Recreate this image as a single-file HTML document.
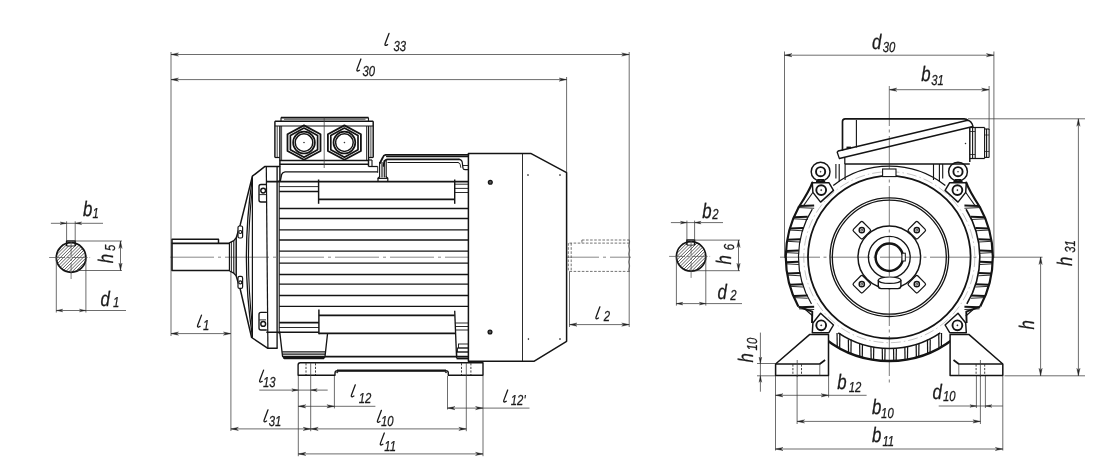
<!DOCTYPE html>
<html><head><meta charset="utf-8"><title>Motor dimensions</title>
<style>
html,body{margin:0;padding:0;background:#fff;}
body{width:1100px;height:467px;overflow:hidden;font-family:"Liberation Sans",sans-serif;}
svg{display:block;}
svg text{font-family:"Liberation Sans",sans-serif;text-rendering:geometricPrecision;}
svg{will-change:transform;}
body{-webkit-font-smoothing:antialiased;}
</style></head><body>
<svg width="1100" height="467" viewBox="0 0 1100 467">
<rect width="1100" height="467" fill="#fff"/>
<clipPath id="cp71"><circle cx="71.1" cy="257.5" r="14.8"/></clipPath>
<g clip-path="url(#cp71)">
<line x1="11.10" y1="277.50" x2="51.10" y2="237.50" stroke="#2a2a2a" stroke-width="0.75" />
<line x1="14.35" y1="277.50" x2="54.35" y2="237.50" stroke="#2a2a2a" stroke-width="0.75" />
<line x1="17.60" y1="277.50" x2="57.60" y2="237.50" stroke="#2a2a2a" stroke-width="0.75" />
<line x1="20.85" y1="277.50" x2="60.85" y2="237.50" stroke="#2a2a2a" stroke-width="0.75" />
<line x1="24.10" y1="277.50" x2="64.10" y2="237.50" stroke="#2a2a2a" stroke-width="0.75" />
<line x1="27.35" y1="277.50" x2="67.35" y2="237.50" stroke="#2a2a2a" stroke-width="0.75" />
<line x1="30.60" y1="277.50" x2="70.60" y2="237.50" stroke="#2a2a2a" stroke-width="0.75" />
<line x1="33.85" y1="277.50" x2="73.85" y2="237.50" stroke="#2a2a2a" stroke-width="0.75" />
<line x1="37.10" y1="277.50" x2="77.10" y2="237.50" stroke="#2a2a2a" stroke-width="0.75" />
<line x1="40.35" y1="277.50" x2="80.35" y2="237.50" stroke="#2a2a2a" stroke-width="0.75" />
<line x1="43.60" y1="277.50" x2="83.60" y2="237.50" stroke="#2a2a2a" stroke-width="0.75" />
<line x1="46.85" y1="277.50" x2="86.85" y2="237.50" stroke="#2a2a2a" stroke-width="0.75" />
<line x1="50.10" y1="277.50" x2="90.10" y2="237.50" stroke="#2a2a2a" stroke-width="0.75" />
<line x1="53.35" y1="277.50" x2="93.35" y2="237.50" stroke="#2a2a2a" stroke-width="0.75" />
<line x1="56.60" y1="277.50" x2="96.60" y2="237.50" stroke="#2a2a2a" stroke-width="0.75" />
<line x1="59.85" y1="277.50" x2="99.85" y2="237.50" stroke="#2a2a2a" stroke-width="0.75" />
<line x1="63.10" y1="277.50" x2="103.10" y2="237.50" stroke="#2a2a2a" stroke-width="0.75" />
<line x1="66.35" y1="277.50" x2="106.35" y2="237.50" stroke="#2a2a2a" stroke-width="0.75" />
<line x1="69.60" y1="277.50" x2="109.60" y2="237.50" stroke="#2a2a2a" stroke-width="0.75" />
<line x1="72.85" y1="277.50" x2="112.85" y2="237.50" stroke="#2a2a2a" stroke-width="0.75" />
<line x1="76.10" y1="277.50" x2="116.10" y2="237.50" stroke="#2a2a2a" stroke-width="0.75" />
<line x1="79.35" y1="277.50" x2="119.35" y2="237.50" stroke="#2a2a2a" stroke-width="0.75" />
<line x1="82.60" y1="277.50" x2="122.60" y2="237.50" stroke="#2a2a2a" stroke-width="0.75" />
<line x1="85.85" y1="277.50" x2="125.85" y2="237.50" stroke="#2a2a2a" stroke-width="0.75" />
<line x1="89.10" y1="277.50" x2="129.10" y2="237.50" stroke="#2a2a2a" stroke-width="0.75" />
</g>
<rect x="66.6" y="241.0" width="8.600000000000009" height="5" fill="#fff" stroke="none"/>
<circle cx="71.10" cy="257.50" r="14.80" fill="none" stroke="#141414" stroke-width="1.68" />
<path d="M66.60,246.00 L66.60,241.00 L75.20,241.00 L75.20,246.00" fill="none" stroke="#141414" stroke-width="1.46" stroke-linejoin="round" />
<line x1="66.60" y1="246.00" x2="75.20" y2="246.00" stroke="#141414" stroke-width="0.9" />
<line x1="49.10" y1="257.50" x2="90.10" y2="257.50" stroke="#555" stroke-width="0.75" stroke-dasharray="16 2 2.5 2"/>
<line x1="71.10" y1="240.50" x2="71.10" y2="279.50" stroke="#555" stroke-width="0.75" stroke-dasharray="16 2 2.5 2"/>
<line x1="50.90" y1="223.30" x2="66.60" y2="223.30" stroke="#3c3c3c" stroke-width="0.75" />
<line x1="75.20" y1="223.30" x2="103.00" y2="223.30" stroke="#3c3c3c" stroke-width="0.75" />
<line x1="66.60" y1="223.30" x2="75.20" y2="223.30" stroke="#3c3c3c" stroke-width="0.75" />
<path d="M66.60,223.30 L60.10,224.60 L62.05,223.30 L60.10,222.00 Z" fill="#222" stroke="#222" stroke-width="0.35" stroke-linejoin="miter"/>
<path d="M75.20,223.30 L81.70,222.00 L79.75,223.30 L81.70,224.60 Z" fill="#222" stroke="#222" stroke-width="0.35" stroke-linejoin="miter"/>
<line x1="66.60" y1="221.30" x2="66.60" y2="241.00" stroke="#3c3c3c" stroke-width="0.75" />
<line x1="75.20" y1="221.30" x2="75.20" y2="241.00" stroke="#3c3c3c" stroke-width="0.75" />
<line x1="75.20" y1="241.00" x2="122.00" y2="241.00" stroke="#3c3c3c" stroke-width="0.75" />
<line x1="76.10" y1="270.50" x2="122.00" y2="270.50" stroke="#3c3c3c" stroke-width="0.75" />
<line x1="120.50" y1="241.00" x2="120.50" y2="270.50" stroke="#3c3c3c" stroke-width="0.75" />
<path d="M120.50,241.00 L122.10,248.50 L120.50,246.25 L118.90,248.50 Z" fill="#222" stroke="#222" stroke-width="0.35" stroke-linejoin="miter"/>
<path d="M120.50,270.50 L118.90,263.00 L120.50,265.25 L122.10,263.00 Z" fill="#222" stroke="#222" stroke-width="0.35" stroke-linejoin="miter"/>
<line x1="56.30" y1="257.50" x2="56.30" y2="312.50" stroke="#3c3c3c" stroke-width="0.75" />
<line x1="85.90" y1="257.50" x2="85.90" y2="312.50" stroke="#3c3c3c" stroke-width="0.75" />
<line x1="56.30" y1="310.50" x2="126.00" y2="310.50" stroke="#3c3c3c" stroke-width="0.75" />
<path d="M56.30,310.50 L62.80,309.20 L60.85,310.50 L62.80,311.80 Z" fill="#222" stroke="#222" stroke-width="0.35" stroke-linejoin="miter"/>
<path d="M85.90,310.50 L79.40,311.80 L81.35,310.50 L79.40,309.20 Z" fill="#222" stroke="#222" stroke-width="0.35" stroke-linejoin="miter"/>
<clipPath id="cp691"><circle cx="691.1" cy="256.4" r="14.7"/></clipPath>
<g clip-path="url(#cp691)">
<line x1="631.10" y1="276.40" x2="671.10" y2="236.40" stroke="#2a2a2a" stroke-width="0.75" />
<line x1="634.35" y1="276.40" x2="674.35" y2="236.40" stroke="#2a2a2a" stroke-width="0.75" />
<line x1="637.60" y1="276.40" x2="677.60" y2="236.40" stroke="#2a2a2a" stroke-width="0.75" />
<line x1="640.85" y1="276.40" x2="680.85" y2="236.40" stroke="#2a2a2a" stroke-width="0.75" />
<line x1="644.10" y1="276.40" x2="684.10" y2="236.40" stroke="#2a2a2a" stroke-width="0.75" />
<line x1="647.35" y1="276.40" x2="687.35" y2="236.40" stroke="#2a2a2a" stroke-width="0.75" />
<line x1="650.60" y1="276.40" x2="690.60" y2="236.40" stroke="#2a2a2a" stroke-width="0.75" />
<line x1="653.85" y1="276.40" x2="693.85" y2="236.40" stroke="#2a2a2a" stroke-width="0.75" />
<line x1="657.10" y1="276.40" x2="697.10" y2="236.40" stroke="#2a2a2a" stroke-width="0.75" />
<line x1="660.35" y1="276.40" x2="700.35" y2="236.40" stroke="#2a2a2a" stroke-width="0.75" />
<line x1="663.60" y1="276.40" x2="703.60" y2="236.40" stroke="#2a2a2a" stroke-width="0.75" />
<line x1="666.85" y1="276.40" x2="706.85" y2="236.40" stroke="#2a2a2a" stroke-width="0.75" />
<line x1="670.10" y1="276.40" x2="710.10" y2="236.40" stroke="#2a2a2a" stroke-width="0.75" />
<line x1="673.35" y1="276.40" x2="713.35" y2="236.40" stroke="#2a2a2a" stroke-width="0.75" />
<line x1="676.60" y1="276.40" x2="716.60" y2="236.40" stroke="#2a2a2a" stroke-width="0.75" />
<line x1="679.85" y1="276.40" x2="719.85" y2="236.40" stroke="#2a2a2a" stroke-width="0.75" />
<line x1="683.10" y1="276.40" x2="723.10" y2="236.40" stroke="#2a2a2a" stroke-width="0.75" />
<line x1="686.35" y1="276.40" x2="726.35" y2="236.40" stroke="#2a2a2a" stroke-width="0.75" />
<line x1="689.60" y1="276.40" x2="729.60" y2="236.40" stroke="#2a2a2a" stroke-width="0.75" />
<line x1="692.85" y1="276.40" x2="732.85" y2="236.40" stroke="#2a2a2a" stroke-width="0.75" />
<line x1="696.10" y1="276.40" x2="736.10" y2="236.40" stroke="#2a2a2a" stroke-width="0.75" />
<line x1="699.35" y1="276.40" x2="739.35" y2="236.40" stroke="#2a2a2a" stroke-width="0.75" />
<line x1="702.60" y1="276.40" x2="742.60" y2="236.40" stroke="#2a2a2a" stroke-width="0.75" />
<line x1="705.85" y1="276.40" x2="745.85" y2="236.40" stroke="#2a2a2a" stroke-width="0.75" />
<line x1="709.10" y1="276.40" x2="749.10" y2="236.40" stroke="#2a2a2a" stroke-width="0.75" />
</g>
<rect x="686.9" y="240.1" width="7.7000000000000455" height="5" fill="#fff" stroke="none"/>
<circle cx="691.10" cy="256.40" r="14.70" fill="none" stroke="#141414" stroke-width="1.68" />
<path d="M686.90,245.10 L686.90,240.10 L694.60,240.10 L694.60,245.10" fill="none" stroke="#141414" stroke-width="1.46" stroke-linejoin="round" />
<line x1="686.90" y1="245.10" x2="694.60" y2="245.10" stroke="#141414" stroke-width="0.9" />
<line x1="669.10" y1="256.40" x2="710.10" y2="256.40" stroke="#555" stroke-width="0.75" stroke-dasharray="16 2 2.5 2"/>
<line x1="691.10" y1="239.40" x2="691.10" y2="278.40" stroke="#555" stroke-width="0.75" stroke-dasharray="16 2 2.5 2"/>
<line x1="670.90" y1="222.60" x2="686.90" y2="222.60" stroke="#3c3c3c" stroke-width="0.75" />
<line x1="694.60" y1="222.60" x2="723.00" y2="222.60" stroke="#3c3c3c" stroke-width="0.75" />
<line x1="686.90" y1="222.60" x2="694.60" y2="222.60" stroke="#3c3c3c" stroke-width="0.75" />
<path d="M686.90,222.60 L680.40,223.90 L682.35,222.60 L680.40,221.30 Z" fill="#222" stroke="#222" stroke-width="0.35" stroke-linejoin="miter"/>
<path d="M694.60,222.60 L701.10,221.30 L699.15,222.60 L701.10,223.90 Z" fill="#222" stroke="#222" stroke-width="0.35" stroke-linejoin="miter"/>
<line x1="686.90" y1="220.60" x2="686.90" y2="240.10" stroke="#3c3c3c" stroke-width="0.75" />
<line x1="694.60" y1="220.60" x2="694.60" y2="240.10" stroke="#3c3c3c" stroke-width="0.75" />
<line x1="694.60" y1="240.10" x2="740.00" y2="240.10" stroke="#3c3c3c" stroke-width="0.75" />
<line x1="696.10" y1="270.70" x2="740.00" y2="270.70" stroke="#3c3c3c" stroke-width="0.75" />
<line x1="738.50" y1="240.10" x2="738.50" y2="270.70" stroke="#3c3c3c" stroke-width="0.75" />
<path d="M738.50,240.10 L740.10,247.60 L738.50,245.35 L736.90,247.60 Z" fill="#222" stroke="#222" stroke-width="0.35" stroke-linejoin="miter"/>
<path d="M738.50,270.70 L736.90,263.20 L738.50,265.45 L740.10,263.20 Z" fill="#222" stroke="#222" stroke-width="0.35" stroke-linejoin="miter"/>
<line x1="676.40" y1="256.40" x2="676.40" y2="305.60" stroke="#3c3c3c" stroke-width="0.75" />
<line x1="705.80" y1="256.40" x2="705.80" y2="305.60" stroke="#3c3c3c" stroke-width="0.75" />
<line x1="676.40" y1="303.60" x2="742.00" y2="303.60" stroke="#3c3c3c" stroke-width="0.75" />
<path d="M676.40,303.60 L682.90,302.30 L680.95,303.60 L682.90,304.90 Z" fill="#222" stroke="#222" stroke-width="0.35" stroke-linejoin="miter"/>
<path d="M705.80,303.60 L699.30,304.90 L701.25,303.60 L699.30,302.30 Z" fill="#222" stroke="#222" stroke-width="0.35" stroke-linejoin="miter"/>
<line x1="171.00" y1="52.00" x2="171.00" y2="336.00" stroke="#3c3c3c" stroke-width="0.75" />
<line x1="629.20" y1="52.00" x2="629.20" y2="327.00" stroke="#3c3c3c" stroke-width="0.75" />
<line x1="566.60" y1="77.00" x2="566.60" y2="172.00" stroke="#3c3c3c" stroke-width="0.75" />
<line x1="171.00" y1="54.50" x2="629.20" y2="54.50" stroke="#3c3c3c" stroke-width="0.75" />
<path d="M171.00,54.50 L178.50,52.90 L176.25,54.50 L178.50,56.10 Z" fill="#222" stroke="#222" stroke-width="0.35" stroke-linejoin="miter"/>
<path d="M629.20,54.50 L621.70,56.10 L623.95,54.50 L621.70,52.90 Z" fill="#222" stroke="#222" stroke-width="0.35" stroke-linejoin="miter"/>
<line x1="171.00" y1="79.60" x2="566.60" y2="79.60" stroke="#3c3c3c" stroke-width="0.75" />
<path d="M171.00,79.60 L178.50,78.00 L176.25,79.60 L178.50,81.20 Z" fill="#222" stroke="#222" stroke-width="0.35" stroke-linejoin="miter"/>
<path d="M566.60,79.60 L559.10,81.20 L561.35,79.60 L559.10,78.00 Z" fill="#222" stroke="#222" stroke-width="0.35" stroke-linejoin="miter"/>
<line x1="171.00" y1="333.60" x2="230.90" y2="333.60" stroke="#3c3c3c" stroke-width="0.75" />
<path d="M171.00,333.60 L178.50,332.00 L176.25,333.60 L178.50,335.20 Z" fill="#222" stroke="#222" stroke-width="0.35" stroke-linejoin="miter"/>
<path d="M230.90,333.60 L223.40,335.20 L225.65,333.60 L223.40,332.00 Z" fill="#222" stroke="#222" stroke-width="0.35" stroke-linejoin="miter"/>
<line x1="230.90" y1="272.00" x2="230.90" y2="431.00" stroke="#3c3c3c" stroke-width="0.75" />
<line x1="569.50" y1="324.60" x2="629.20" y2="324.60" stroke="#3c3c3c" stroke-width="0.75" />
<path d="M569.50,324.60 L577.00,323.00 L574.75,324.60 L577.00,326.20 Z" fill="#222" stroke="#222" stroke-width="0.35" stroke-linejoin="miter"/>
<path d="M629.20,324.60 L621.70,326.20 L623.95,324.60 L621.70,323.00 Z" fill="#222" stroke="#222" stroke-width="0.35" stroke-linejoin="miter"/>
<line x1="569.50" y1="271.40" x2="569.50" y2="327.00" stroke="#3c3c3c" stroke-width="0.75" />
<line x1="298.30" y1="376.00" x2="298.30" y2="456.20" stroke="#3c3c3c" stroke-width="0.75" />
<line x1="310.70" y1="376.00" x2="310.70" y2="431.20" stroke="#3c3c3c" stroke-width="0.75" />
<line x1="334.40" y1="376.00" x2="334.40" y2="408.40" stroke="#3c3c3c" stroke-width="0.75" />
<line x1="447.50" y1="376.00" x2="447.50" y2="409.50" stroke="#3c3c3c" stroke-width="0.75" />
<line x1="466.30" y1="376.00" x2="466.30" y2="431.20" stroke="#3c3c3c" stroke-width="0.75" />
<line x1="483.00" y1="376.00" x2="483.00" y2="456.20" stroke="#3c3c3c" stroke-width="0.75" />
<line x1="259.30" y1="390.10" x2="298.30" y2="390.10" stroke="#3c3c3c" stroke-width="0.75" />
<line x1="310.70" y1="390.10" x2="327.70" y2="390.10" stroke="#3c3c3c" stroke-width="0.75" />
<line x1="298.30" y1="390.10" x2="310.70" y2="390.10" stroke="#3c3c3c" stroke-width="0.75" />
<path d="M298.30,390.10 L291.80,391.40 L293.75,390.10 L291.80,388.80 Z" fill="#222" stroke="#222" stroke-width="0.35" stroke-linejoin="miter"/>
<path d="M310.70,390.10 L317.20,388.80 L315.25,390.10 L317.20,391.40 Z" fill="#222" stroke="#222" stroke-width="0.35" stroke-linejoin="miter"/>
<line x1="298.30" y1="406.30" x2="375.40" y2="406.30" stroke="#3c3c3c" stroke-width="0.75" />
<path d="M298.30,406.30 L305.80,404.70 L303.55,406.30 L305.80,407.90 Z" fill="#222" stroke="#222" stroke-width="0.35" stroke-linejoin="miter"/>
<path d="M334.40,406.30 L326.90,407.90 L329.15,406.30 L326.90,404.70 Z" fill="#222" stroke="#222" stroke-width="0.35" stroke-linejoin="miter"/>
<line x1="230.90" y1="428.90" x2="310.70" y2="428.90" stroke="#3c3c3c" stroke-width="0.75" />
<path d="M230.90,428.90 L238.40,427.30 L236.15,428.90 L238.40,430.50 Z" fill="#222" stroke="#222" stroke-width="0.35" stroke-linejoin="miter"/>
<path d="M310.70,428.90 L303.20,430.50 L305.45,428.90 L303.20,427.30 Z" fill="#222" stroke="#222" stroke-width="0.35" stroke-linejoin="miter"/>
<line x1="310.70" y1="428.90" x2="466.30" y2="428.90" stroke="#3c3c3c" stroke-width="0.75" />
<path d="M310.70,428.90 L318.20,427.30 L315.95,428.90 L318.20,430.50 Z" fill="#222" stroke="#222" stroke-width="0.35" stroke-linejoin="miter"/>
<path d="M466.30,428.90 L458.80,430.50 L461.05,428.90 L458.80,427.30 Z" fill="#222" stroke="#222" stroke-width="0.35" stroke-linejoin="miter"/>
<line x1="298.30" y1="453.90" x2="483.00" y2="453.90" stroke="#3c3c3c" stroke-width="0.75" />
<path d="M298.30,453.90 L305.80,452.30 L303.55,453.90 L305.80,455.50 Z" fill="#222" stroke="#222" stroke-width="0.35" stroke-linejoin="miter"/>
<path d="M483.00,453.90 L475.50,455.50 L477.75,453.90 L475.50,452.30 Z" fill="#222" stroke="#222" stroke-width="0.35" stroke-linejoin="miter"/>
<line x1="447.50" y1="408.10" x2="529.50" y2="408.10" stroke="#3c3c3c" stroke-width="0.75" />
<path d="M447.50,408.10 L455.00,406.50 L452.75,408.10 L455.00,409.70 Z" fill="#222" stroke="#222" stroke-width="0.35" stroke-linejoin="miter"/>
<path d="M483.00,408.10 L475.50,409.70 L477.75,408.10 L475.50,406.50 Z" fill="#222" stroke="#222" stroke-width="0.35" stroke-linejoin="miter"/>
<line x1="170.00" y1="257.20" x2="631.00" y2="257.20" stroke="#6a6a6a" stroke-width="0.8" stroke-dasharray="44 4 3 4"/>
<path d="M229.30,243.40 L172.00,243.40 L172.00,270.50 L229.30,270.50" fill="none" stroke="#141414" stroke-width="1.57" stroke-linejoin="round" />
<path d="M172.00,243.40 L172.00,239.30 L218.50,239.30 L218.50,243.40" fill="none" stroke="#141414" stroke-width="1.46" stroke-linejoin="round" />
<path d="M229.50,271.00 L229.50,242.80 L233.80,240.60 L236.00,238.00" fill="none" stroke="#141414" stroke-width="1.34" stroke-linejoin="round" />
<path d="M229.50,271.00 L233.80,273.20 L236.00,275.60" fill="none" stroke="#141414" stroke-width="1.34" stroke-linejoin="round" />
<line x1="233.80" y1="240.60" x2="233.80" y2="273.20" stroke="#141414" stroke-width="1.12" />
<line x1="231.50" y1="241.80" x2="231.50" y2="272.00" stroke="#141414" stroke-width="0.8" />
<path d="M279.6,166.4 L265,166.4 L252.4,176.2 L240.3,224.5 L236.2,238 L236.2,276 L240.3,289.5 L251.6,337.5 L267.5,348.2 L277.1,348.2" fill="none" stroke="#141414" stroke-width="1.46" stroke-linejoin="round" stroke-linecap="round" />
<line x1="252.40" y1="176.20" x2="252.40" y2="337.80" stroke="#141414" stroke-width="1.23" />
<path d="M252.4,178 Q240.4,257.2 252.4,336.5" fill="none" stroke="#141414" stroke-width="1.34" stroke-linejoin="round" stroke-linecap="round" />
<path d="M252.4,188 Q244.6,257.2 252.4,326.5" fill="none" stroke="#141414" stroke-width="1.12" stroke-linejoin="round" stroke-linecap="round" />
<line x1="266.30" y1="166.40" x2="267.90" y2="348.20" stroke="#141414" stroke-width="1.23" />
<line x1="277.10" y1="166.40" x2="277.10" y2="348.20" stroke="#141414" stroke-width="1.34" />
<line x1="279.20" y1="180.00" x2="279.20" y2="334.00" stroke="#141414" stroke-width="1.12" />
<path d="M266.3,184.5 L261,184.5 Q259,184.5 259,186.5 L259,200 Q259,202 261,202 L266.3,202" fill="none" stroke="#141414" stroke-width="1.34" stroke-linejoin="round" stroke-linecap="round" />
<circle cx="263.20" cy="190.60" r="2.40" fill="none" stroke="#141414" stroke-width="1.46" />
<line x1="259.20" y1="194.60" x2="266.00" y2="194.60" stroke="#141414" stroke-width="0.9" />
<path d="M266.3,312.4 L261,312.4 Q259,312.4 259,314.4 L259,328 Q259,330 261,330 L266.3,330" fill="none" stroke="#141414" stroke-width="1.34" stroke-linejoin="round" stroke-linecap="round" />
<circle cx="263.20" cy="323.90" r="2.40" fill="none" stroke="#141414" stroke-width="1.46" />
<line x1="259.20" y1="319.90" x2="266.00" y2="319.90" stroke="#141414" stroke-width="0.9" />
<rect x="238.0" y="226.0" width="4.6" height="12" rx="1.5" fill="#fff" stroke="#141414" stroke-width="1.2"/>
<circle cx="240.30" cy="232.00" r="1.50" fill="none" stroke="#141414" stroke-width="1.12" />
<rect x="238.0" y="276.4" width="4.6" height="12" rx="1.5" fill="#fff" stroke="#141414" stroke-width="1.2"/>
<circle cx="240.30" cy="282.40" r="1.50" fill="none" stroke="#141414" stroke-width="1.12" />
<line x1="279.20" y1="208.50" x2="468.40" y2="208.50" stroke="#141414" stroke-width="1.29" />
<line x1="279.20" y1="218.50" x2="468.40" y2="218.50" stroke="#141414" stroke-width="1.29" />
<line x1="279.20" y1="229.80" x2="468.40" y2="229.80" stroke="#141414" stroke-width="1.29" />
<line x1="279.20" y1="240.00" x2="468.40" y2="240.00" stroke="#141414" stroke-width="1.29" />
<line x1="279.20" y1="251.20" x2="468.40" y2="251.20" stroke="#141414" stroke-width="1.29" />
<line x1="279.20" y1="263.20" x2="468.40" y2="263.20" stroke="#141414" stroke-width="1.29" />
<line x1="279.20" y1="274.50" x2="468.40" y2="274.50" stroke="#141414" stroke-width="1.29" />
<line x1="279.20" y1="284.20" x2="468.40" y2="284.20" stroke="#141414" stroke-width="1.29" />
<line x1="279.20" y1="295.50" x2="468.40" y2="295.50" stroke="#141414" stroke-width="1.29" />
<line x1="279.20" y1="306.30" x2="468.40" y2="306.30" stroke="#141414" stroke-width="1.29" />
<line x1="266.30" y1="181.60" x2="468.40" y2="181.60" stroke="#141414" stroke-width="1.68" />
<line x1="279.20" y1="186.60" x2="318.00" y2="186.60" stroke="#141414" stroke-width="0.9" />
<line x1="279.20" y1="191.50" x2="318.00" y2="191.50" stroke="#141414" stroke-width="1.68" />
<line x1="318.60" y1="179.50" x2="318.60" y2="203.80" stroke="#141414" stroke-width="1.46" />
<line x1="454.70" y1="179.50" x2="454.70" y2="203.80" stroke="#141414" stroke-width="1.46" />
<line x1="318.60" y1="199.40" x2="454.70" y2="199.40" stroke="#141414" stroke-width="1.68" />
<line x1="454.70" y1="184.20" x2="468.40" y2="184.20" stroke="#141414" stroke-width="0.9" />
<line x1="454.70" y1="188.40" x2="468.40" y2="188.40" stroke="#141414" stroke-width="0.9" />
<line x1="454.70" y1="192.50" x2="468.40" y2="192.50" stroke="#141414" stroke-width="0.9" />
<line x1="318.90" y1="309.60" x2="318.90" y2="334.30" stroke="#141414" stroke-width="1.46" />
<line x1="318.90" y1="315.40" x2="454.70" y2="315.40" stroke="#141414" stroke-width="1.68" />
<line x1="318.90" y1="333.40" x2="456.00" y2="333.40" stroke="#141414" stroke-width="1.57" />
<line x1="279.20" y1="322.60" x2="318.90" y2="322.60" stroke="#141414" stroke-width="1.68" />
<line x1="279.20" y1="327.50" x2="318.90" y2="327.50" stroke="#141414" stroke-width="0.9" />
<line x1="266.30" y1="332.20" x2="318.90" y2="332.20" stroke="#141414" stroke-width="1.57" />
<line x1="454.70" y1="310.70" x2="456.60" y2="358.30" stroke="#141414" stroke-width="1.34" />
<line x1="455.40" y1="323.00" x2="468.40" y2="323.00" stroke="#141414" stroke-width="0.9" />
<line x1="455.40" y1="326.50" x2="468.40" y2="326.50" stroke="#141414" stroke-width="0.9" />
<line x1="455.40" y1="330.00" x2="468.40" y2="330.00" stroke="#141414" stroke-width="0.9" />
<path d="M279.70,331.70 L282.50,356.00 L284.50,358.60 L323.50,358.60 L325.00,356.50 L327.50,334.00" fill="none" stroke="#141414" stroke-width="1.34" stroke-linejoin="round" />
<line x1="282.20" y1="351.80" x2="325.00" y2="351.80" stroke="#141414" stroke-width="1.34" />
<line x1="282.20" y1="354.20" x2="325.00" y2="354.20" stroke="#141414" stroke-width="1.34" />
<line x1="282.20" y1="356.40" x2="325.00" y2="356.40" stroke="#141414" stroke-width="1.34" />
<line x1="283.00" y1="357.60" x2="324.00" y2="357.60" stroke="#141414" stroke-width="1.79" />
<line x1="325.00" y1="356.60" x2="468.40" y2="356.60" stroke="#141414" stroke-width="1.68" />
<rect x="458.5" y="344" width="9.9" height="4" fill="none" stroke="#141414" stroke-width="0.9"/>
<rect x="457.5" y="348" width="10.9" height="4" fill="none" stroke="#141414" stroke-width="0.9"/>
<rect x="456.8" y="352" width="11.6" height="4.5" fill="none" stroke="#141414" stroke-width="0.9"/>
<line x1="456.60" y1="358.50" x2="468.40" y2="358.50" stroke="#141414" stroke-width="1.79" />
<path d="M298.1,375.2 L298.1,365 Q298.1,362.8 300.3,362.8 L483,362.8 L483,375.2 L448.3,375.2 L448.3,372.8 Q448.3,370.6 445.8,370.6 L337.5,370.6 Q335,370.6 335,373 L335,375.2 Z" fill="none" stroke="#141414" stroke-width="1.4" stroke-linejoin="round" stroke-linecap="round" />
<line x1="337.00" y1="370.60" x2="446.00" y2="370.60" stroke="#141414" stroke-width="2.13" />
<line x1="306.00" y1="363.20" x2="306.00" y2="375.00" stroke="#141414" stroke-width="0.8" stroke-dasharray="2.2 1.4"/>
<line x1="315.50" y1="363.20" x2="315.50" y2="375.00" stroke="#141414" stroke-width="0.8" stroke-dasharray="2.2 1.4"/>
<line x1="461.50" y1="363.20" x2="461.50" y2="375.00" stroke="#141414" stroke-width="0.8" stroke-dasharray="2.2 1.4"/>
<line x1="470.90" y1="363.20" x2="470.90" y2="375.00" stroke="#141414" stroke-width="0.8" stroke-dasharray="2.2 1.4"/>
<line x1="310.70" y1="362.80" x2="310.70" y2="376.00" stroke="#3c3c3c" stroke-width="0.75" />
<line x1="466.30" y1="362.80" x2="466.30" y2="376.00" stroke="#3c3c3c" stroke-width="0.75" />
<circle cx="337.20" cy="372.30" r="0.60" fill="#141414" stroke="#141414" stroke-width="0.6" />
<circle cx="446.00" cy="372.30" r="0.60" fill="#141414" stroke="#141414" stroke-width="0.6" />
<path d="M468.40,153.40 L530.70,153.40 L566.60,172.60 L566.60,341.30 L534.30,361.20 L468.40,361.20 Z" fill="#fff" stroke="#141414" stroke-width="1.51" stroke-linejoin="round" />
<line x1="522.50" y1="153.40" x2="522.50" y2="361.20" stroke="#141414" stroke-width="0.9" />
<circle cx="490.30" cy="182.20" r="1.90" fill="#555" stroke="#141414" stroke-width="1.34" />
<circle cx="490.00" cy="332.00" r="1.90" fill="#555" stroke="#141414" stroke-width="1.34" />
<circle cx="528.00" cy="175.00" r="0.55" fill="#141414" stroke="#141414" stroke-width="0.5" />
<circle cx="560.00" cy="175.00" r="0.55" fill="#141414" stroke="#141414" stroke-width="0.5" />
<circle cx="528.40" cy="339.00" r="0.55" fill="#141414" stroke="#141414" stroke-width="0.5" />
<circle cx="560.00" cy="339.00" r="0.55" fill="#141414" stroke="#141414" stroke-width="0.5" />
<line x1="569.50" y1="243.10" x2="629.20" y2="243.10" stroke="#444" stroke-width="0.75" stroke-dasharray="2.6 1.5"/>
<line x1="569.50" y1="271.40" x2="629.20" y2="271.40" stroke="#444" stroke-width="0.75" stroke-dasharray="2.6 1.5"/>
<line x1="581.90" y1="240.00" x2="629.20" y2="240.00" stroke="#444" stroke-width="0.75" stroke-dasharray="2.6 1.5"/>
<line x1="581.90" y1="240.00" x2="581.90" y2="243.10" stroke="#444" stroke-width="0.75" stroke-dasharray="2.6 1.5"/>
<line x1="568.30" y1="243.10" x2="568.30" y2="271.40" stroke="#444" stroke-width="0.75" stroke-dasharray="2.6 1.5"/>
<line x1="571.20" y1="243.10" x2="571.20" y2="271.40" stroke="#444" stroke-width="0.75" stroke-dasharray="2.6 1.5"/>
<path d="M629.2,240 q1,2 0,4 q-1,2 0,4 q1,2 0,4 q-1,2 0,4 q1,2 0,4 q-1,2 0,4 q1,2 0,4 q-1,1.7 0,3.4" fill="none" stroke="#444" stroke-width="0.7" stroke-linejoin="round" stroke-linecap="round" />
<path d="M468.4,154.8 L385.5,154.8 Q383.6,155 382.8,157.5 L380,163" fill="none" stroke="#141414" stroke-width="1.79" stroke-linejoin="round" stroke-linecap="round" />
<path d="M468.4,156.6 L386.5,156.6" fill="none" stroke="#141414" stroke-width="1.12" stroke-linejoin="round" stroke-linecap="round" />
<path d="M459,159.3 L387.5,159.3 Q385,159.5 384.2,162 L383.5,166" fill="none" stroke="#141414" stroke-width="1.68" stroke-linejoin="round" stroke-linecap="round" />
<path d="M458,162.5 L388,162.5" fill="none" stroke="#141414" stroke-width="1.12" stroke-linejoin="round" stroke-linecap="round" />
<path d="M459,159.3 Q461.8,159.5 462.2,162 L463,168.2 Q463.3,169.7 465,169.7 L468.4,169.7" fill="none" stroke="#141414" stroke-width="1.23" stroke-linejoin="round" stroke-linecap="round" />
<path d="M458,162.5 Q459.8,162.6 460.2,164.5 L460.8,167.4" fill="none" stroke="#141414" stroke-width="0.9" stroke-linejoin="round" stroke-linecap="round" />
<line x1="462.50" y1="165.50" x2="468.40" y2="165.50" stroke="#141414" stroke-width="0.9" />
<line x1="379.60" y1="162.00" x2="379.60" y2="177.50" stroke="#141414" stroke-width="1.12" />
<line x1="382.00" y1="162.00" x2="382.00" y2="177.50" stroke="#141414" stroke-width="1.12" />
<line x1="384.30" y1="160.00" x2="384.30" y2="177.50" stroke="#141414" stroke-width="1.12" />
<line x1="386.20" y1="160.00" x2="386.20" y2="177.50" stroke="#141414" stroke-width="1.12" />
<path d="M379.6,176.8 L378,178.2 L378,181 M386.2,176.8 L387.8,178.2 L387.8,181" fill="none" stroke="#141414" stroke-width="1.23" stroke-linejoin="round" stroke-linecap="round" />
<line x1="377.70" y1="178.40" x2="388.00" y2="178.40" stroke="#141414" stroke-width="1.12" />
<line x1="281.00" y1="117.60" x2="368.50" y2="117.60" stroke="#141414" stroke-width="1.68" />
<line x1="281.00" y1="117.60" x2="281.00" y2="121.00" stroke="#141414" stroke-width="1.12" />
<line x1="368.50" y1="117.60" x2="368.50" y2="121.00" stroke="#141414" stroke-width="1.12" />
<line x1="284.00" y1="119.30" x2="365.50" y2="119.30" stroke="#141414" stroke-width="0.7" />
<line x1="274.90" y1="121.20" x2="373.20" y2="121.20" stroke="#141414" stroke-width="1.46" />
<line x1="274.90" y1="126.00" x2="373.20" y2="126.00" stroke="#141414" stroke-width="1.23" />
<line x1="274.90" y1="121.20" x2="274.90" y2="157.50" stroke="#141414" stroke-width="1.46" />
<line x1="373.20" y1="121.20" x2="373.20" y2="157.50" stroke="#141414" stroke-width="1.46" />
<line x1="274.90" y1="157.50" x2="279.60" y2="157.50" stroke="#141414" stroke-width="1.23" />
<line x1="368.50" y1="157.50" x2="373.20" y2="157.50" stroke="#141414" stroke-width="1.23" />
<line x1="277.20" y1="126.00" x2="277.20" y2="157.50" stroke="#141414" stroke-width="0.8" />
<line x1="370.90" y1="126.00" x2="370.90" y2="157.50" stroke="#141414" stroke-width="0.8" />
<line x1="279.90" y1="126.00" x2="279.90" y2="181.00" stroke="#141414" stroke-width="1.46" />
<line x1="368.50" y1="126.00" x2="368.50" y2="166.50" stroke="#141414" stroke-width="1.46" />
<line x1="281.60" y1="126.00" x2="281.60" y2="161.00" stroke="#141414" stroke-width="0.8" />
<line x1="366.50" y1="126.00" x2="366.50" y2="161.00" stroke="#141414" stroke-width="0.8" />
<line x1="279.60" y1="160.40" x2="368.50" y2="160.40" stroke="#141414" stroke-width="1.46" />
<line x1="279.60" y1="164.20" x2="368.50" y2="164.20" stroke="#141414" stroke-width="1.46" />
<path d="M377.5,171.9 L285,171.9 Q282.5,172.2 281.6,174.5 L280.4,180.5" fill="none" stroke="#141414" stroke-width="1.34" stroke-linejoin="round" stroke-linecap="round" />
<line x1="368.50" y1="160.00" x2="372.00" y2="160.00" stroke="#141414" stroke-width="1.12" />
<line x1="372.00" y1="160.00" x2="372.00" y2="166.50" stroke="#141414" stroke-width="1.12" />
<line x1="368.50" y1="166.50" x2="377.70" y2="166.50" stroke="#141414" stroke-width="1.23" />
<line x1="377.70" y1="166.50" x2="377.70" y2="172.70" stroke="#141414" stroke-width="0.9" />
<line x1="324.20" y1="117.60" x2="324.20" y2="168.00" stroke="#3c3c3c" stroke-width="0.75" />
<path d="M304.00,125.40 L320.50,134.20 L320.50,151.00 L304.00,159.80 L287.50,151.00 L287.50,134.20 Z" fill="none" stroke="#141414" stroke-width="1.79" stroke-linejoin="round" />
<path d="M304.00,128.00 L317.60,135.40 L317.60,149.80 L304.00,157.20 L290.40,149.80 L290.40,135.40 Z" fill="none" stroke="#141414" stroke-width="1.68" stroke-linejoin="round" />
<circle cx="304.00" cy="142.60" r="10.90" fill="none" stroke="#141414" stroke-width="1.68" />
<circle cx="304.00" cy="142.60" r="8.80" fill="none" stroke="#141414" stroke-width="1.46" />
<circle cx="304.00" cy="142.60" r="0.50" fill="#141414" stroke="#141414" stroke-width="0.4" />
<path d="M344.40,125.40 L360.90,134.20 L360.90,151.00 L344.40,159.80 L327.90,151.00 L327.90,134.20 Z" fill="none" stroke="#141414" stroke-width="1.79" stroke-linejoin="round" />
<path d="M344.40,128.00 L358.00,135.40 L358.00,149.80 L344.40,157.20 L330.80,149.80 L330.80,135.40 Z" fill="none" stroke="#141414" stroke-width="1.68" stroke-linejoin="round" />
<circle cx="344.40" cy="142.60" r="10.90" fill="none" stroke="#141414" stroke-width="1.68" />
<circle cx="344.40" cy="142.60" r="8.80" fill="none" stroke="#141414" stroke-width="1.46" />
<circle cx="344.40" cy="142.60" r="0.50" fill="#141414" stroke="#141414" stroke-width="0.4" />
<line x1="784.50" y1="51.50" x2="784.50" y2="258.00" stroke="#3c3c3c" stroke-width="0.75" />
<line x1="993.90" y1="51.50" x2="993.90" y2="258.00" stroke="#3c3c3c" stroke-width="0.75" />
<line x1="784.50" y1="55.20" x2="993.90" y2="55.20" stroke="#3c3c3c" stroke-width="0.75" />
<path d="M784.50,55.20 L792.00,53.60 L789.75,55.20 L792.00,56.80 Z" fill="#222" stroke="#222" stroke-width="0.35" stroke-linejoin="miter"/>
<path d="M993.90,55.20 L986.40,56.80 L988.65,55.20 L986.40,53.60 Z" fill="#222" stroke="#222" stroke-width="0.35" stroke-linejoin="miter"/>
<line x1="989.10" y1="86.00" x2="989.10" y2="130.00" stroke="#3c3c3c" stroke-width="0.75" />
<line x1="889.30" y1="89.70" x2="989.10" y2="89.70" stroke="#3c3c3c" stroke-width="0.75" />
<path d="M889.30,89.70 L896.80,88.10 L894.55,89.70 L896.80,91.30 Z" fill="#222" stroke="#222" stroke-width="0.35" stroke-linejoin="miter"/>
<path d="M989.10,89.70 L981.60,91.30 L983.85,89.70 L981.60,88.10 Z" fill="#222" stroke="#222" stroke-width="0.35" stroke-linejoin="miter"/>
<line x1="889.30" y1="86.00" x2="889.30" y2="385.00" stroke="#5a5a5a" stroke-width="0.8" stroke-dasharray="40 3.5 3 3.5"/>
<line x1="780.00" y1="257.20" x2="994.00" y2="257.20" stroke="#5a5a5a" stroke-width="0.8" stroke-dasharray="40 3.5 3 3.5"/>
<line x1="993.90" y1="257.20" x2="1042.50" y2="257.20" stroke="#3c3c3c" stroke-width="0.75" />
<line x1="968.00" y1="118.80" x2="1085.00" y2="118.80" stroke="#3c3c3c" stroke-width="0.75" />
<line x1="1004.50" y1="375.80" x2="1085.00" y2="375.80" stroke="#3c3c3c" stroke-width="0.75" />
<line x1="1078.40" y1="118.80" x2="1078.40" y2="375.80" stroke="#3c3c3c" stroke-width="0.75" />
<path d="M1078.40,118.80 L1080.00,126.30 L1078.40,124.05 L1076.80,126.30 Z" fill="#222" stroke="#222" stroke-width="0.35" stroke-linejoin="miter"/>
<path d="M1078.40,375.80 L1076.80,368.30 L1078.40,370.55 L1080.00,368.30 Z" fill="#222" stroke="#222" stroke-width="0.35" stroke-linejoin="miter"/>
<line x1="1040.60" y1="257.00" x2="1040.60" y2="375.80" stroke="#3c3c3c" stroke-width="0.75" />
<path d="M1040.60,257.00 L1042.20,264.50 L1040.60,262.25 L1039.00,264.50 Z" fill="#222" stroke="#222" stroke-width="0.35" stroke-linejoin="miter"/>
<path d="M1040.60,375.80 L1039.00,368.30 L1040.60,370.55 L1042.20,368.30 Z" fill="#222" stroke="#222" stroke-width="0.35" stroke-linejoin="miter"/>
<line x1="757.00" y1="363.50" x2="775.00" y2="363.50" stroke="#3c3c3c" stroke-width="0.75" />
<line x1="757.00" y1="375.80" x2="775.00" y2="375.80" stroke="#3c3c3c" stroke-width="0.75" />
<line x1="760.40" y1="332.60" x2="760.40" y2="391.70" stroke="#3c3c3c" stroke-width="0.75" />
<path d="M760.40,363.50 L759.10,357.00 L760.40,358.95 L761.70,357.00 Z" fill="#222" stroke="#222" stroke-width="0.35" stroke-linejoin="miter"/>
<path d="M760.40,375.80 L761.70,382.30 L760.40,380.35 L759.10,382.30 Z" fill="#222" stroke="#222" stroke-width="0.35" stroke-linejoin="miter"/>
<line x1="775.50" y1="376.00" x2="775.50" y2="450.50" stroke="#3c3c3c" stroke-width="0.75" />
<line x1="1002.80" y1="376.00" x2="1002.80" y2="450.50" stroke="#3c3c3c" stroke-width="0.75" />
<line x1="828.60" y1="376.00" x2="828.60" y2="397.50" stroke="#3c3c3c" stroke-width="0.75" />
<line x1="775.50" y1="395.30" x2="866.60" y2="395.30" stroke="#3c3c3c" stroke-width="0.75" />
<path d="M775.50,395.30 L783.00,393.70 L780.75,395.30 L783.00,396.90 Z" fill="#222" stroke="#222" stroke-width="0.35" stroke-linejoin="miter"/>
<path d="M828.60,395.30 L821.10,396.90 L823.35,395.30 L821.10,393.70 Z" fill="#222" stroke="#222" stroke-width="0.35" stroke-linejoin="miter"/>
<line x1="797.10" y1="362.00" x2="797.10" y2="424.00" stroke="#3c3c3c" stroke-width="0.75" />
<line x1="980.40" y1="362.00" x2="980.40" y2="424.00" stroke="#3c3c3c" stroke-width="0.75" />
<line x1="797.10" y1="421.40" x2="980.40" y2="421.40" stroke="#3c3c3c" stroke-width="0.75" />
<path d="M797.10,421.40 L804.60,419.80 L802.35,421.40 L804.60,423.00 Z" fill="#222" stroke="#222" stroke-width="0.35" stroke-linejoin="miter"/>
<path d="M980.40,421.40 L972.90,423.00 L975.15,421.40 L972.90,419.80 Z" fill="#222" stroke="#222" stroke-width="0.35" stroke-linejoin="miter"/>
<line x1="775.50" y1="449.00" x2="1002.80" y2="449.00" stroke="#3c3c3c" stroke-width="0.75" />
<path d="M775.50,449.00 L783.00,447.40 L780.75,449.00 L783.00,450.60 Z" fill="#222" stroke="#222" stroke-width="0.35" stroke-linejoin="miter"/>
<path d="M1002.80,449.00 L995.30,450.60 L997.55,449.00 L995.30,447.40 Z" fill="#222" stroke="#222" stroke-width="0.35" stroke-linejoin="miter"/>
<line x1="976.40" y1="362.00" x2="976.40" y2="408.00" stroke="#3c3c3c" stroke-width="0.75" />
<line x1="985.40" y1="362.00" x2="985.40" y2="408.00" stroke="#3c3c3c" stroke-width="0.75" />
<line x1="938.70" y1="406.00" x2="1002.80" y2="406.00" stroke="#3c3c3c" stroke-width="0.75" />
<path d="M976.40,406.00 L969.90,407.30 L971.85,406.00 L969.90,404.70 Z" fill="#222" stroke="#222" stroke-width="0.35" stroke-linejoin="miter"/>
<path d="M985.40,406.00 L991.90,404.70 L989.95,406.00 L991.90,407.30 Z" fill="#222" stroke="#222" stroke-width="0.35" stroke-linejoin="miter"/>
<circle cx="889.30" cy="257.20" r="81.30" fill="none" stroke="#141414" stroke-width="1.79" />
<circle cx="889.30" cy="257.20" r="59.30" fill="none" stroke="#141414" stroke-width="1.34" />
<circle cx="889.30" cy="257.20" r="57.00" fill="none" stroke="#141414" stroke-width="1.34" />
<circle cx="889.3" cy="257.2" r="85.5" fill="none" stroke="#8a8a8a" stroke-width="0.5" stroke-dasharray="10 3 1.5 3"/>
<circle cx="889.30" cy="257.20" r="31.30" fill="none" stroke="#141414" stroke-width="1.46" />
<circle cx="889.30" cy="257.20" r="20.90" fill="none" stroke="#141414" stroke-width="1.34" />
<circle cx="889.30" cy="257.20" r="13.70" fill="none" stroke="#141414" stroke-width="2.46" />
<rect x="902" y="253.2" width="3.3" height="7.8" fill="#fff" stroke="#141414" stroke-width="1.0"/>
<rect x="-6.6" y="-6.6" width="13.2" height="13.2" rx="1.6" transform="translate(861.8,230.2) rotate(45)" fill="#fff" stroke="#141414" stroke-width="1.25"/>
<circle cx="861.80" cy="230.20" r="2.60" fill="none" stroke="#141414" stroke-width="1.46" />
<circle cx="861.80" cy="230.20" r="1.00" fill="none" stroke="#141414" stroke-width="0.8" />
<rect x="-6.6" y="-6.6" width="13.2" height="13.2" rx="1.6" transform="translate(861.8,284.2) rotate(45)" fill="#fff" stroke="#141414" stroke-width="1.25"/>
<circle cx="861.80" cy="284.20" r="2.60" fill="none" stroke="#141414" stroke-width="1.46" />
<circle cx="861.80" cy="284.20" r="1.00" fill="none" stroke="#141414" stroke-width="0.8" />
<rect x="-6.6" y="-6.6" width="13.2" height="13.2" rx="1.6" transform="translate(916.8,230.2) rotate(45)" fill="#fff" stroke="#141414" stroke-width="1.25"/>
<circle cx="916.80" cy="230.20" r="2.60" fill="none" stroke="#141414" stroke-width="1.46" />
<circle cx="916.80" cy="230.20" r="1.00" fill="none" stroke="#141414" stroke-width="0.8" />
<rect x="-6.6" y="-6.6" width="13.2" height="13.2" rx="1.6" transform="translate(916.8,284.2) rotate(45)" fill="#fff" stroke="#141414" stroke-width="1.25"/>
<circle cx="916.80" cy="284.20" r="2.60" fill="none" stroke="#141414" stroke-width="1.46" />
<circle cx="916.80" cy="284.20" r="1.00" fill="none" stroke="#141414" stroke-width="0.8" />
<path d="M878.3,280.2 L878.3,285.8 Q878.3,288.6 881.3,288.6 L897.9,288.6 Q900.9,288.6 900.9,285.8 L900.9,280.2" fill="#fff" stroke="#141414" stroke-width="1.4" stroke-linejoin="round" stroke-linecap="round" />
<ellipse cx="889.6" cy="280.2" rx="11.3" ry="3.2" fill="#fff" stroke="#141414" stroke-width="1.2"/>
<rect x="882.6" y="169" width="13.4" height="7.6" fill="#fff" stroke="#141414" stroke-width="1.1"/>
<path d="M945.33,185.49 A91,91 0 0 0 833.27,185.49" fill="none" stroke="#141414" stroke-width="1.3"/>
<path d="M980.26,306.59 A103.5,103.5 0 0 0 979.82,207.02" fill="none" stroke="#141414" stroke-width="2.2"/>
<path d="M798.78,207.02 A103.5,103.5 0 0 0 798.34,306.59" fill="none" stroke="#141414" stroke-width="2.2"/>
<path d="M966.87,303.81 A90.5,90.5 0 0 0 966.05,209.24" fill="none" stroke="#141414" stroke-width="1.6"/>
<path d="M812.30,209.08 A90.8,90.8 0 0 0 811.47,303.97" fill="none" stroke="#141414" stroke-width="1.2"/>
<line x1="814.16" y1="205.57" x2="799.03" y2="205.97" stroke="#141414" stroke-width="1.9" />
<line x1="814.16" y1="208.27" x2="799.03" y2="207.57" stroke="#141414" stroke-width="0.9" />
<line x1="964.44" y1="205.57" x2="979.57" y2="205.97" stroke="#141414" stroke-width="1.9" />
<line x1="964.44" y1="208.27" x2="979.57" y2="207.57" stroke="#141414" stroke-width="0.9" />
<line x1="807.70" y1="216.82" x2="793.58" y2="217.22" stroke="#141414" stroke-width="1.9" />
<line x1="807.70" y1="219.52" x2="793.58" y2="218.82" stroke="#141414" stroke-width="0.9" />
<line x1="970.90" y1="216.82" x2="985.02" y2="217.22" stroke="#141414" stroke-width="1.9" />
<line x1="970.90" y1="219.52" x2="985.02" y2="218.82" stroke="#141414" stroke-width="0.9" />
<line x1="803.18" y1="228.07" x2="789.69" y2="228.47" stroke="#141414" stroke-width="1.9" />
<line x1="803.18" y1="230.77" x2="789.69" y2="230.07" stroke="#141414" stroke-width="0.9" />
<line x1="975.42" y1="228.07" x2="988.91" y2="228.47" stroke="#141414" stroke-width="1.9" />
<line x1="975.42" y1="230.77" x2="988.91" y2="230.07" stroke="#141414" stroke-width="0.9" />
<line x1="800.29" y1="239.32" x2="787.18" y2="239.72" stroke="#141414" stroke-width="1.9" />
<line x1="800.29" y1="242.02" x2="787.18" y2="241.32" stroke="#141414" stroke-width="0.9" />
<line x1="978.31" y1="239.32" x2="991.42" y2="239.72" stroke="#141414" stroke-width="1.9" />
<line x1="978.31" y1="242.02" x2="991.42" y2="241.32" stroke="#141414" stroke-width="0.9" />
<line x1="798.87" y1="250.57" x2="785.95" y2="250.97" stroke="#141414" stroke-width="1.9" />
<line x1="798.87" y1="253.27" x2="785.95" y2="252.57" stroke="#141414" stroke-width="0.9" />
<line x1="979.73" y1="250.57" x2="992.65" y2="250.97" stroke="#141414" stroke-width="1.9" />
<line x1="979.73" y1="253.27" x2="992.65" y2="252.57" stroke="#141414" stroke-width="0.9" />
<line x1="798.87" y1="261.82" x2="785.95" y2="262.22" stroke="#141414" stroke-width="1.9" />
<line x1="798.87" y1="264.52" x2="785.95" y2="263.82" stroke="#141414" stroke-width="0.9" />
<line x1="979.73" y1="261.82" x2="992.65" y2="262.22" stroke="#141414" stroke-width="1.9" />
<line x1="979.73" y1="264.52" x2="992.65" y2="263.82" stroke="#141414" stroke-width="0.9" />
<line x1="800.29" y1="273.07" x2="787.18" y2="273.47" stroke="#141414" stroke-width="1.9" />
<line x1="800.29" y1="275.77" x2="787.18" y2="275.07" stroke="#141414" stroke-width="0.9" />
<line x1="978.31" y1="273.07" x2="991.42" y2="273.47" stroke="#141414" stroke-width="1.9" />
<line x1="978.31" y1="275.77" x2="991.42" y2="275.07" stroke="#141414" stroke-width="0.9" />
<line x1="803.18" y1="284.32" x2="789.69" y2="284.72" stroke="#141414" stroke-width="1.9" />
<line x1="803.18" y1="287.02" x2="789.69" y2="286.32" stroke="#141414" stroke-width="0.9" />
<line x1="975.42" y1="284.32" x2="988.91" y2="284.72" stroke="#141414" stroke-width="1.9" />
<line x1="975.42" y1="287.02" x2="988.91" y2="286.32" stroke="#141414" stroke-width="0.9" />
<line x1="807.70" y1="295.57" x2="793.58" y2="295.97" stroke="#141414" stroke-width="1.9" />
<line x1="807.70" y1="298.27" x2="793.58" y2="297.57" stroke="#141414" stroke-width="0.9" />
<line x1="970.90" y1="295.57" x2="985.02" y2="295.97" stroke="#141414" stroke-width="1.9" />
<line x1="970.90" y1="298.27" x2="985.02" y2="297.57" stroke="#141414" stroke-width="0.9" />
<line x1="814.16" y1="306.82" x2="799.03" y2="307.22" stroke="#141414" stroke-width="1.9" />
<line x1="814.16" y1="309.52" x2="799.03" y2="308.82" stroke="#141414" stroke-width="0.9" />
<line x1="964.44" y1="306.82" x2="979.57" y2="307.22" stroke="#141414" stroke-width="1.9" />
<line x1="964.44" y1="309.52" x2="979.57" y2="308.82" stroke="#141414" stroke-width="0.9" />
<path d="M825.39,339.00 A103.8,103.8 0 0 0 953.21,339.00" fill="none" stroke="#141414" stroke-width="2.3"/>
<path d="M838.25,332.89 A91.3,91.3 0 0 0 940.35,332.89" fill="none" stroke="#141414" stroke-width="1.7"/>
<line x1="837.05" y1="333.03" x2="837.25" y2="347.69" stroke="#141414" stroke-width="1.23" />
<line x1="839.85" y1="333.03" x2="839.65" y2="347.69" stroke="#141414" stroke-width="1.23" />
<line x1="848.35" y1="339.49" x2="848.55" y2="353.17" stroke="#141414" stroke-width="1.23" />
<line x1="851.15" y1="339.49" x2="850.95" y2="353.17" stroke="#141414" stroke-width="1.23" />
<line x1="859.65" y1="344.02" x2="859.85" y2="357.08" stroke="#141414" stroke-width="1.23" />
<line x1="862.45" y1="344.02" x2="862.25" y2="357.08" stroke="#141414" stroke-width="1.23" />
<line x1="870.95" y1="346.91" x2="871.15" y2="359.61" stroke="#141414" stroke-width="1.23" />
<line x1="873.75" y1="346.91" x2="873.55" y2="359.61" stroke="#141414" stroke-width="1.23" />
<line x1="882.25" y1="348.33" x2="882.45" y2="360.85" stroke="#141414" stroke-width="1.23" />
<line x1="885.05" y1="348.33" x2="884.85" y2="360.85" stroke="#141414" stroke-width="1.23" />
<line x1="893.55" y1="348.33" x2="893.75" y2="360.85" stroke="#141414" stroke-width="1.23" />
<line x1="896.35" y1="348.33" x2="896.15" y2="360.85" stroke="#141414" stroke-width="1.23" />
<line x1="904.85" y1="346.91" x2="905.05" y2="359.61" stroke="#141414" stroke-width="1.23" />
<line x1="907.65" y1="346.91" x2="907.45" y2="359.61" stroke="#141414" stroke-width="1.23" />
<line x1="916.15" y1="344.02" x2="916.35" y2="357.08" stroke="#141414" stroke-width="1.23" />
<line x1="918.95" y1="344.02" x2="918.75" y2="357.08" stroke="#141414" stroke-width="1.23" />
<line x1="927.45" y1="339.49" x2="927.65" y2="353.17" stroke="#141414" stroke-width="1.23" />
<line x1="930.25" y1="339.49" x2="930.05" y2="353.17" stroke="#141414" stroke-width="1.23" />
<line x1="938.75" y1="333.03" x2="938.95" y2="347.69" stroke="#141414" stroke-width="1.23" />
<line x1="941.55" y1="333.03" x2="941.35" y2="347.69" stroke="#141414" stroke-width="1.23" />
<path d="M828.50,375.60 L828.50,334.40 L809.80,334.40 L775.60,364.00 L775.60,375.60 Z" fill="#fff" stroke="#141414" stroke-width="1.51" stroke-linejoin="round" />
<path d="M775.60,364.00 L819.80,364.00 L825.10,360.00" fill="none" stroke="#141414" stroke-width="1.68" stroke-linejoin="round" />
<line x1="819.80" y1="364.00" x2="819.80" y2="375.60" stroke="#3c3c3c" stroke-width="0.7" />
<line x1="801.50" y1="364.40" x2="801.50" y2="375.40" stroke="#141414" stroke-width="0.8" stroke-dasharray="2.2 1.4"/>
<line x1="792.90" y1="364.40" x2="792.90" y2="375.40" stroke="#141414" stroke-width="0.8" stroke-dasharray="2.2 1.4"/>
<line x1="797.20" y1="360.00" x2="797.20" y2="377.00" stroke="#3c3c3c" stroke-width="0.75" />
<path d="M950.10,375.60 L950.10,334.40 L968.80,334.40 L1002.80,364.00 L1002.80,375.60 Z" fill="#fff" stroke="#141414" stroke-width="1.51" stroke-linejoin="round" />
<path d="M1002.80,364.00 L958.80,364.00 L953.50,360.00" fill="none" stroke="#141414" stroke-width="1.68" stroke-linejoin="round" />
<line x1="958.80" y1="364.00" x2="958.80" y2="375.60" stroke="#3c3c3c" stroke-width="0.7" />
<line x1="976.10" y1="364.40" x2="976.10" y2="375.40" stroke="#141414" stroke-width="0.8" stroke-dasharray="2.2 1.4"/>
<line x1="984.70" y1="364.40" x2="984.70" y2="375.40" stroke="#141414" stroke-width="0.8" stroke-dasharray="2.2 1.4"/>
<line x1="980.40" y1="360.00" x2="980.40" y2="377.00" stroke="#3c3c3c" stroke-width="0.75" />
<circle cx="820.60" cy="171.70" r="9.40" fill="#fff" stroke="#141414" stroke-width="1.46" />
<circle cx="820.60" cy="171.70" r="4.60" fill="none" stroke="#141414" stroke-width="1.9" />
<circle cx="820.60" cy="171.70" r="0.50" fill="#141414" stroke="#141414" stroke-width="0.4" />
<line x1="817.20" y1="179.60" x2="824.00" y2="179.60" stroke="#141414" stroke-width="1.23" />
<line x1="816.00" y1="181.40" x2="825.20" y2="181.40" stroke="#141414" stroke-width="1.23" />
<path d="M812.30,182.70 L828.90,182.70 L833.50,190.40 L820.60,202.10 L812.90,192.40 Z" fill="#fff" stroke="#141414" stroke-width="1.46" stroke-linejoin="round" />
<circle cx="821.20" cy="190.10" r="4.90" fill="none" stroke="#141414" stroke-width="1.9" />
<circle cx="821.20" cy="190.10" r="0.60" fill="#141414" stroke="#141414" stroke-width="0.5" />
<path d="M812.30,332.70 L828.90,332.70 L833.50,325.00 L820.60,313.30 L812.90,323.00 Z" fill="#fff" stroke="#141414" stroke-width="1.46" stroke-linejoin="round" />
<circle cx="821.20" cy="325.30" r="4.90" fill="none" stroke="#141414" stroke-width="1.9" />
<circle cx="821.20" cy="325.30" r="0.60" fill="#141414" stroke="#141414" stroke-width="0.5" />
<circle cx="958.00" cy="171.70" r="9.40" fill="#fff" stroke="#141414" stroke-width="1.46" />
<circle cx="958.00" cy="171.70" r="4.60" fill="none" stroke="#141414" stroke-width="1.9" />
<circle cx="958.00" cy="171.70" r="0.50" fill="#141414" stroke="#141414" stroke-width="0.4" />
<line x1="954.60" y1="179.60" x2="961.40" y2="179.60" stroke="#141414" stroke-width="1.23" />
<line x1="953.40" y1="181.40" x2="962.60" y2="181.40" stroke="#141414" stroke-width="1.23" />
<path d="M966.30,182.70 L949.70,182.70 L945.10,190.40 L958.00,202.10 L965.70,192.40 Z" fill="#fff" stroke="#141414" stroke-width="1.46" stroke-linejoin="round" />
<circle cx="957.40" cy="190.10" r="4.90" fill="none" stroke="#141414" stroke-width="1.9" />
<circle cx="957.40" cy="190.10" r="0.60" fill="#141414" stroke="#141414" stroke-width="0.5" />
<path d="M966.30,332.70 L949.70,332.70 L945.10,325.00 L958.00,313.30 L965.70,323.00 Z" fill="#fff" stroke="#141414" stroke-width="1.46" stroke-linejoin="round" />
<circle cx="957.40" cy="325.30" r="4.90" fill="none" stroke="#141414" stroke-width="1.9" />
<circle cx="957.40" cy="325.30" r="0.60" fill="#141414" stroke="#141414" stroke-width="0.5" />
<line x1="835.90" y1="164.00" x2="835.90" y2="178.50" stroke="#141414" stroke-width="1.12" />
<line x1="839.20" y1="164.00" x2="839.20" y2="181.50" stroke="#141414" stroke-width="1.12" />
<line x1="845.10" y1="164.00" x2="845.10" y2="180.00" stroke="#141414" stroke-width="1.12" />
<path d="M812.30,182.6 Q809.80,190 798.78,207.02" fill="none" stroke="#141414" stroke-width="2.13" stroke-linejoin="round" stroke-linecap="round" />
<line x1="812.80" y1="192.50" x2="803.30" y2="206.00" stroke="#141414" stroke-width="1.12" />
<path d="M798.34,306.59 L812.30,311.60 L812.00,323.00" fill="none" stroke="#141414" stroke-width="1.9" stroke-linejoin="round" />
<line x1="804.30" y1="308.50" x2="812.80" y2="316.00" stroke="#141414" stroke-width="1.12" />
<line x1="942.70" y1="164.00" x2="942.70" y2="178.50" stroke="#141414" stroke-width="1.12" />
<line x1="939.40" y1="164.00" x2="939.40" y2="181.50" stroke="#141414" stroke-width="1.12" />
<line x1="933.50" y1="164.00" x2="933.50" y2="180.00" stroke="#141414" stroke-width="1.12" />
<path d="M966.30,182.6 Q968.80,190 979.82,207.02" fill="none" stroke="#141414" stroke-width="2.13" stroke-linejoin="round" stroke-linecap="round" />
<line x1="965.80" y1="192.50" x2="975.30" y2="206.00" stroke="#141414" stroke-width="1.12" />
<path d="M980.26,306.59 L966.30,311.60 L966.60,323.00" fill="none" stroke="#141414" stroke-width="1.9" stroke-linejoin="round" />
<line x1="974.30" y1="308.50" x2="965.80" y2="316.00" stroke="#141414" stroke-width="1.12" />
<path d="M842.5,150 L842.5,121.6 Q842.5,118.9 845.2,118.9 L964,118.9 Q966.8,119 967.9,120.4" fill="none" stroke="#141414" stroke-width="1.68" stroke-linejoin="round" stroke-linecap="round" />
<line x1="856.40" y1="120.00" x2="856.40" y2="147.60" stroke="#141414" stroke-width="1.12" />
<path d="M838.20,151.00 L967.70,120.30" fill="none" stroke="#141414" stroke-width="1.57" stroke-linejoin="round" />
<path d="M839.40,158.60 L973.00,126.40" fill="none" stroke="#141414" stroke-width="1.57" stroke-linejoin="round" />
<path d="M838.2,151 L837.2,152.2 L839.4,158.6" fill="none" stroke="#141414" stroke-width="1.34" stroke-linejoin="round" stroke-linecap="round" />
<path d="M967.7,120.3 Q971.5,121 973,126.4" fill="none" stroke="#141414" stroke-width="1.46" stroke-linejoin="round" stroke-linecap="round" />
<line x1="969.80" y1="127.20" x2="969.80" y2="162.00" stroke="#141414" stroke-width="1.46" />
<line x1="844.80" y1="157.40" x2="844.80" y2="163.90" stroke="#141414" stroke-width="1.23" />
<line x1="844.80" y1="163.90" x2="969.80" y2="163.90" stroke="#141414" stroke-width="1.46" />
<rect x="846.5" y="146.6" width="4.5" height="2.2" fill="#141414"/>
<circle cx="965.50" cy="143.50" r="0.50" fill="#141414" stroke="#141414" stroke-width="0.4" />
<line x1="972.60" y1="128.00" x2="972.60" y2="158.50" stroke="#141414" stroke-width="1.12" />
<line x1="975.20" y1="127.50" x2="975.20" y2="158.50" stroke="#141414" stroke-width="1.12" />
<line x1="984.60" y1="127.50" x2="984.60" y2="158.50" stroke="#141414" stroke-width="1.12" />
<line x1="986.60" y1="129.00" x2="986.60" y2="157.40" stroke="#141414" stroke-width="1.12" />
<line x1="989.10" y1="129.00" x2="989.10" y2="157.40" stroke="#141414" stroke-width="1.12" />
<line x1="969.80" y1="127.50" x2="984.60" y2="127.50" stroke="#141414" stroke-width="1.23" />
<line x1="969.80" y1="158.50" x2="984.60" y2="158.50" stroke="#141414" stroke-width="1.23" />
<line x1="984.60" y1="129.00" x2="989.10" y2="129.00" stroke="#141414" stroke-width="1.12" />
<line x1="984.60" y1="157.40" x2="989.10" y2="157.40" stroke="#141414" stroke-width="1.12" />
<line x1="969.80" y1="131.50" x2="975.20" y2="131.50" stroke="#141414" stroke-width="0.8" />
<line x1="969.80" y1="154.50" x2="975.20" y2="154.50" stroke="#141414" stroke-width="0.8" />
<line x1="984.60" y1="135.00" x2="989.10" y2="135.00" stroke="#141414" stroke-width="0.7" />
<line x1="984.60" y1="151.50" x2="989.10" y2="151.50" stroke="#141414" stroke-width="0.7" />
<g transform="translate(83.70,215.50)">
<text transform="translate(-0.6,0) scale(0.8,1)" font-size="21" font-style="italic" fill="#1a1a1a" stroke="#1a1a1a" stroke-width="0.3">b</text>
<text transform="translate(8.90,2.6) scale(0.78,1)" font-size="14.5" font-style="italic" fill="#1a1a1a" stroke="#1a1a1a" stroke-width="0.25">1</text>
</g>
<g transform="translate(112.80,262.60) rotate(-90)">
<text transform="translate(-0.6,0) scale(0.8,1)" font-size="21" font-style="italic" fill="#1a1a1a" stroke="#1a1a1a" stroke-width="0.3">h</text>
<text transform="translate(11.50,2.5) scale(0.78,1)" font-size="14.5" font-style="italic" fill="#1a1a1a" stroke="#1a1a1a" stroke-width="0.25">5</text>
</g>
<g transform="translate(101.00,306.40)">
<text transform="translate(-0.6,0) scale(0.8,1)" font-size="21" font-style="italic" fill="#1a1a1a" stroke="#1a1a1a" stroke-width="0.3">d</text>
<text transform="translate(12.00,0.6) scale(0.78,1)" font-size="14.5" font-style="italic" fill="#1a1a1a" stroke="#1a1a1a" stroke-width="0.25">1</text>
</g>
<g transform="translate(702.90,217.50)">
<text transform="translate(-0.6,0) scale(0.8,1)" font-size="21" font-style="italic" fill="#1a1a1a" stroke="#1a1a1a" stroke-width="0.3">b</text>
<text transform="translate(9.30,1.5) scale(0.78,1)" font-size="14.5" font-style="italic" fill="#1a1a1a" stroke="#1a1a1a" stroke-width="0.25">2</text>
</g>
<g transform="translate(730.70,263.80) rotate(-90)">
<text transform="translate(-0.6,0) scale(0.8,1)" font-size="21" font-style="italic" fill="#1a1a1a" stroke="#1a1a1a" stroke-width="0.3">h</text>
<text transform="translate(13.50,2.8) scale(0.78,1)" font-size="14.5" font-style="italic" fill="#1a1a1a" stroke="#1a1a1a" stroke-width="0.25">6</text>
</g>
<g transform="translate(718.20,299.40)">
<text transform="translate(-0.6,0) scale(0.8,1)" font-size="21" font-style="italic" fill="#1a1a1a" stroke="#1a1a1a" stroke-width="0.3">d</text>
<text transform="translate(12.10,1) scale(0.78,1)" font-size="14.5" font-style="italic" fill="#1a1a1a" stroke="#1a1a1a" stroke-width="0.25">2</text>
</g>
<g transform="translate(384.30,45.60)">
<path d="M4.70,-12.18 L0.87,-2.09 Q0.17,0.09 1.91,-0.26 L3.31,-0.96" fill="none" stroke="#1a1a1a" stroke-width="1.3" stroke-linecap="round" stroke-linejoin="round"/>
<text transform="translate(9.20,5.7) scale(0.78,1)" font-size="14.5" font-style="italic" fill="#1a1a1a" stroke="#1a1a1a" stroke-width="0.25">33</text>
</g>
<g transform="translate(356.20,71.20)">
<path d="M4.70,-12.18 L0.87,-2.09 Q0.17,0.09 1.91,-0.26 L3.31,-0.96" fill="none" stroke="#1a1a1a" stroke-width="1.3" stroke-linecap="round" stroke-linejoin="round"/>
<text transform="translate(6.20,5) scale(0.78,1)" font-size="14.5" font-style="italic" fill="#1a1a1a" stroke="#1a1a1a" stroke-width="0.25">30</text>
</g>
<g transform="translate(196.80,327.30)">
<path d="M4.70,-12.18 L0.87,-2.09 Q0.17,0.09 1.91,-0.26 L3.31,-0.96" fill="none" stroke="#1a1a1a" stroke-width="1.3" stroke-linecap="round" stroke-linejoin="round"/>
<text transform="translate(6.10,2.5) scale(0.78,1)" font-size="14.5" font-style="italic" fill="#1a1a1a" stroke="#1a1a1a" stroke-width="0.25">1</text>
</g>
<g transform="translate(595.20,319.00)">
<path d="M4.70,-12.18 L0.87,-2.09 Q0.17,0.09 1.91,-0.26 L3.31,-0.96" fill="none" stroke="#1a1a1a" stroke-width="1.3" stroke-linecap="round" stroke-linejoin="round"/>
<text transform="translate(8.60,1.7) scale(0.78,1)" font-size="14.5" font-style="italic" fill="#1a1a1a" stroke="#1a1a1a" stroke-width="0.25">2</text>
</g>
<g transform="translate(258.90,382.30)">
<path d="M4.70,-12.18 L0.87,-2.09 Q0.17,0.09 1.91,-0.26 L3.31,-0.96" fill="none" stroke="#1a1a1a" stroke-width="1.3" stroke-linecap="round" stroke-linejoin="round"/>
<text transform="translate(4.00,4.3) scale(0.78,1)" font-size="14.5" font-style="italic" fill="#1a1a1a" stroke="#1a1a1a" stroke-width="0.25">13</text>
</g>
<g transform="translate(350.60,397.00)">
<path d="M4.70,-12.18 L0.87,-2.09 Q0.17,0.09 1.91,-0.26 L3.31,-0.96" fill="none" stroke="#1a1a1a" stroke-width="1.3" stroke-linecap="round" stroke-linejoin="round"/>
<text transform="translate(8.10,5.6) scale(0.78,1)" font-size="14.5" font-style="italic" fill="#1a1a1a" stroke="#1a1a1a" stroke-width="0.25">12</text>
</g>
<g transform="translate(263.30,422.00)">
<path d="M4.70,-12.18 L0.87,-2.09 Q0.17,0.09 1.91,-0.26 L3.31,-0.96" fill="none" stroke="#1a1a1a" stroke-width="1.3" stroke-linecap="round" stroke-linejoin="round"/>
<text transform="translate(5.40,3.7) scale(0.78,1)" font-size="14.5" font-style="italic" fill="#1a1a1a" stroke="#1a1a1a" stroke-width="0.25">31</text>
</g>
<g transform="translate(376.70,422.50)">
<path d="M4.70,-12.18 L0.87,-2.09 Q0.17,0.09 1.91,-0.26 L3.31,-0.96" fill="none" stroke="#1a1a1a" stroke-width="1.3" stroke-linecap="round" stroke-linejoin="round"/>
<text transform="translate(4.20,3.2) scale(0.78,1)" font-size="14.5" font-style="italic" fill="#1a1a1a" stroke="#1a1a1a" stroke-width="0.25">10</text>
</g>
<g transform="translate(379.60,445.20)">
<path d="M4.70,-12.18 L0.87,-2.09 Q0.17,0.09 1.91,-0.26 L3.31,-0.96" fill="none" stroke="#1a1a1a" stroke-width="1.3" stroke-linecap="round" stroke-linejoin="round"/>
<text transform="translate(4.70,5.6) scale(0.78,1)" font-size="14.5" font-style="italic" fill="#1a1a1a" stroke="#1a1a1a" stroke-width="0.25">11</text>
</g>
<g transform="translate(503.00,402.20)">
<path d="M4.70,-12.18 L0.87,-2.09 Q0.17,0.09 1.91,-0.26 L3.31,-0.96" fill="none" stroke="#1a1a1a" stroke-width="1.3" stroke-linecap="round" stroke-linejoin="round"/>
<text transform="translate(7.80,2.5) scale(0.78,1)" font-size="14.5" font-style="italic" fill="#1a1a1a" stroke="#1a1a1a" stroke-width="0.25">12'</text>
</g>
<g transform="translate(872.70,48.70)">
<text transform="translate(-0.6,0) scale(0.8,1)" font-size="21" font-style="italic" fill="#1a1a1a" stroke="#1a1a1a" stroke-width="0.3">d</text>
<text transform="translate(10.10,3) scale(0.78,1)" font-size="14.5" font-style="italic" fill="#1a1a1a" stroke="#1a1a1a" stroke-width="0.25">30</text>
</g>
<g transform="translate(921.80,80.80)">
<text transform="translate(-0.6,0) scale(0.8,1)" font-size="21" font-style="italic" fill="#1a1a1a" stroke="#1a1a1a" stroke-width="0.3">b</text>
<text transform="translate(9.50,3.9) scale(0.78,1)" font-size="14.5" font-style="italic" fill="#1a1a1a" stroke="#1a1a1a" stroke-width="0.25">31</text>
</g>
<g transform="translate(1033.60,329.00) rotate(-90)">
<text transform="translate(-0.6,0) scale(0.8,1)" font-size="21" font-style="italic" fill="#1a1a1a" stroke="#1a1a1a" stroke-width="0.3">h</text>
</g>
<g transform="translate(1071.70,265.30) rotate(-90)">
<text transform="translate(-0.6,0) scale(0.8,1)" font-size="21" font-style="italic" fill="#1a1a1a" stroke="#1a1a1a" stroke-width="0.3">h</text>
<text transform="translate(12.50,3.1) scale(0.78,1)" font-size="14.5" font-style="italic" fill="#1a1a1a" stroke="#1a1a1a" stroke-width="0.25">31</text>
</g>
<g transform="translate(753.00,361.80) rotate(-90)">
<text transform="translate(-0.6,0) scale(0.8,1)" font-size="21" font-style="italic" fill="#1a1a1a" stroke="#1a1a1a" stroke-width="0.3">h</text>
<text transform="translate(11.40,4) scale(0.78,1)" font-size="14.5" font-style="italic" fill="#1a1a1a" stroke="#1a1a1a" stroke-width="0.25">10</text>
</g>
<g transform="translate(837.80,388.70)">
<text transform="translate(-0.6,0) scale(0.8,1)" font-size="21" font-style="italic" fill="#1a1a1a" stroke="#1a1a1a" stroke-width="0.3">b</text>
<text transform="translate(10.90,3.5) scale(0.78,1)" font-size="14.5" font-style="italic" fill="#1a1a1a" stroke="#1a1a1a" stroke-width="0.25">12</text>
</g>
<g transform="translate(872.50,414.00)">
<text transform="translate(-0.6,0) scale(0.8,1)" font-size="21" font-style="italic" fill="#1a1a1a" stroke="#1a1a1a" stroke-width="0.3">b</text>
<text transform="translate(8.60,3.7) scale(0.78,1)" font-size="14.5" font-style="italic" fill="#1a1a1a" stroke="#1a1a1a" stroke-width="0.25">10</text>
</g>
<g transform="translate(872.50,442.30)">
<text transform="translate(-0.6,0) scale(0.8,1)" font-size="21" font-style="italic" fill="#1a1a1a" stroke="#1a1a1a" stroke-width="0.3">b</text>
<text transform="translate(9.90,3.2) scale(0.78,1)" font-size="14.5" font-style="italic" fill="#1a1a1a" stroke="#1a1a1a" stroke-width="0.25">11</text>
</g>
<g transform="translate(933.10,399.00)">
<text transform="translate(-0.6,0) scale(0.8,1)" font-size="21" font-style="italic" fill="#1a1a1a" stroke="#1a1a1a" stroke-width="0.3">d</text>
<text transform="translate(9.80,1.9) scale(0.78,1)" font-size="14.5" font-style="italic" fill="#1a1a1a" stroke="#1a1a1a" stroke-width="0.25">10</text>
</g>
</svg>
</body></html>
